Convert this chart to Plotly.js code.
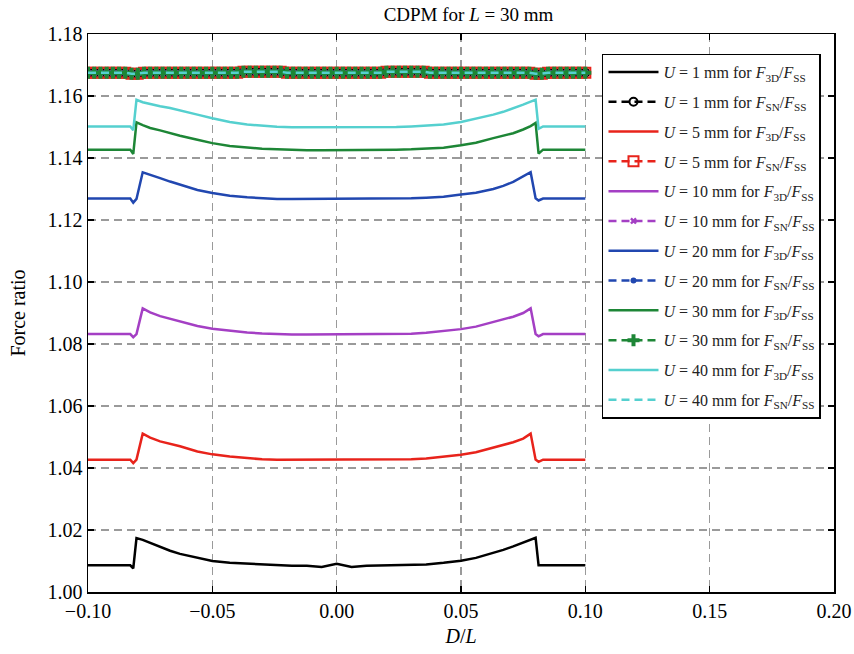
<!DOCTYPE html>
<html>
<head>
<meta charset="utf-8">
<script src="https://cdn.plot.ly/plotly-3.0.1.min.js"></script>
<style>html,body{margin:0;padding:0;background:#fff;}#chart{width:854px;height:654px;}</style>
</head>
<body>
<div id="chart"></div>
<script>
// D/L positions for the 3D curves
const x3D = [-0.100, -0.090, -0.083, -0.0818, -0.0805, -0.078, -0.075, -0.071, -0.067, -0.063, -0.056, -0.050, -0.043, -0.036, -0.030, -0.024, -0.018, -0.012, -0.006, 0.000, 0.006, 0.012, 0.018, 0.024, 0.030, 0.036, 0.043, 0.050, 0.056, 0.063, 0.067, 0.071, 0.075, 0.078, 0.0800, 0.0812, 0.083, 0.090, 0.100];

// F3D/FSS for each U
const u1_3D  = [1.0086, 1.0086, 1.0086, 1.0076, 1.0174, 1.0168, 1.0158, 1.0144, 1.0133, 1.0123, 1.0111, 1.0100, 1.0094, 1.0091, 1.0088, 1.0086, 1.0085, 1.0085, 1.0081, 1.0091, 1.0081, 1.0085, 1.0086, 1.0086, 1.0087, 1.0089, 1.0094, 1.0101, 1.0110, 1.0126, 1.0136, 1.0147, 1.0160, 1.0170, 1.0175, 1.0086, 1.0086, 1.0086, 1.0086];
const u5_3D  = [1.0427, 1.0427, 1.0427, 1.0416, 1.0427, 1.0511, 1.0498, 1.0486, 1.0478, 1.0470, 1.0453, 1.0444, 1.0437, 1.0432, 1.0428, 1.0427, 1.0427, 1.0427, 1.0427, 1.0427, 1.0427, 1.0427, 1.0427, 1.0427, 1.0428, 1.0431, 1.0436, 1.0443, 1.0451, 1.0466, 1.0474, 1.0483, 1.0495, 1.0511, 1.0427, 1.0420, 1.0427, 1.0427, 1.0427];
const u10_3D = [1.0832, 1.0832, 1.0832, 1.0822, 1.0832, 1.0915, 1.0902, 1.0890, 1.0882, 1.0874, 1.0858, 1.0849, 1.0842, 1.0837, 1.0834, 1.0832, 1.0831, 1.0831, 1.0831, 1.0831, 1.0831, 1.0831, 1.0831, 1.0832, 1.0833, 1.0836, 1.0841, 1.0848, 1.0856, 1.0870, 1.0879, 1.0888, 1.0900, 1.0915, 1.0832, 1.0825, 1.0832, 1.0832, 1.0832];
const u20_3D = [1.1269, 1.1269, 1.1269, 1.1256, 1.1268, 1.1354, 1.1345, 1.1335, 1.1324, 1.1314, 1.1297, 1.1287, 1.1278, 1.1273, 1.1270, 1.1268, 1.1268, 1.1268, 1.1268, 1.1268, 1.1268, 1.1268, 1.1268, 1.1269, 1.1270, 1.1272, 1.1275, 1.1282, 1.1288, 1.1300, 1.1310, 1.1323, 1.1341, 1.1354, 1.1270, 1.1263, 1.1269, 1.1269, 1.1269];
const u30_3D = [1.1427, 1.1427, 1.1427, 1.1413, 1.1515, 1.1506, 1.1497, 1.1489, 1.1480, 1.1472, 1.1459, 1.1448, 1.1439, 1.1433, 1.1430, 1.1428, 1.1426, 1.1425, 1.1425, 1.1425, 1.1425, 1.1425, 1.1426, 1.1427, 1.1428, 1.1430, 1.1433, 1.1441, 1.1449, 1.1464, 1.1471, 1.1480, 1.1492, 1.1503, 1.1513, 1.1414, 1.1427, 1.1427, 1.1427];
const u40_3D = [1.1502, 1.1502, 1.1502, 1.1490, 1.1588, 1.1580, 1.1574, 1.1567, 1.1561, 1.1554, 1.1540, 1.1528, 1.1516, 1.1508, 1.1504, 1.1501, 1.1499, 1.1499, 1.1499, 1.1499, 1.1499, 1.1499, 1.1499, 1.1500, 1.1502, 1.1504, 1.1508, 1.1516, 1.1526, 1.1540, 1.1549, 1.1560, 1.1572, 1.1582, 1.1588, 1.1494, 1.1502, 1.1502, 1.1502];

// D/L positions for the SN curves
const xSN = [-0.1000,-0.0975,-0.0950,-0.0925,-0.0900,-0.0875,-0.0850,-0.0825,-0.0800,-0.0775,-0.0750,-0.0725,-0.0700,-0.0675,-0.0650,-0.0625,-0.0600,-0.0575,-0.0550,-0.0525,-0.0500,-0.0475,-0.0450,-0.0425,-0.0400,-0.0375,-0.0350,-0.0325,-0.0300,-0.0275,-0.0250,-0.0225,-0.0200,-0.0175,-0.0150,-0.0125,-0.0100,-0.0075,-0.0050,-0.0025,0.0000,0.0025,0.0050,0.0075,0.0100,0.0125,0.0150,0.0175,0.0200,0.0225,0.0250,0.0275,0.0300,0.0325,0.0350,0.0375,0.0400,0.0425,0.0450,0.0475,0.0500,0.0525,0.0550,0.0575,0.0600,0.0625,0.0650,0.0675,0.0700,0.0725,0.0750,0.0775,0.0800,0.0825,0.0850,0.0875,0.0900,0.0925,0.0950,0.0975,0.1000];
// FSN/FSS (all U overlap in the picture)
const snRatio = [1.1675,1.1675,1.1675,1.1675,1.1675,1.1675,1.1675,1.1672,1.1672,1.1675,1.1675,1.1675,1.1675,1.1675,1.1675,1.1675,1.1675,1.1675,1.1675,1.1675,1.1675,1.1675,1.1675,1.1675,1.1675,1.1678,1.1678,1.1678,1.1678,1.1678,1.1678,1.1678,1.1675,1.1675,1.1675,1.1675,1.1675,1.1675,1.1675,1.1675,1.1675,1.1675,1.1675,1.1675,1.1675,1.1675,1.1675,1.1675,1.1678,1.1678,1.1678,1.1678,1.1678,1.1678,1.1678,1.1675,1.1675,1.1675,1.1675,1.1675,1.1675,1.1675,1.1675,1.1675,1.1675,1.1675,1.1675,1.1675,1.1675,1.1675,1.1675,1.1675,1.1672,1.1672,1.1675,1.1675,1.1675,1.1675,1.1675,1.1675,1.1675];

const uValues = ['1', '5', '10', '20', '30', '40'];
const series3D = [u1_3D, u5_3D, u10_3D, u20_3D, u30_3D, u40_3D];
const seriesSN = [snRatio, snRatio, snRatio, snRatio, snRatio, snRatio];

const colors = ['#000000', '#e8231b', '#a43fc4', '#2147b0', '#1d8636', '#55d0cf'];
const snMarkers = [
  {symbol: 'circle-open', size: 8, line: {width: 2}},
  {symbol: 'square-open', size: 10, line: {width: 2}},
  {symbol: 'x', size: 6, line: {width: 0}},
  {symbol: 'circle', size: 6, line: {width: 0}},
  {symbol: 'cross', size: 10, line: {width: 0}},
  null
];

const traces = [];
uValues.forEach((u, i) => {
  traces.push({
    x: x3D, y: series3D[i], type: 'scatter', mode: 'lines',
    line: {color: colors[i], width: 2.5},
    name: '<i>U</i> = ' + u + ' mm for <i>F</i><sub>3D</sub>/<i>F</i><sub>SS</sub>',
    legendgroup: 'g' + (2 * i)
  });
  const m = snMarkers[i];
  const t = {
    x: xSN, y: seriesSN[i], type: 'scatter', mode: m ? 'lines+markers' : 'lines',
    line: {color: colors[i], width: 2.5, dash: '8px,5px'},
    name: '<i>U</i> = ' + u + ' mm for <i>F</i><sub>SN</sub>/<i>F</i><sub>SS</sub>',
    legendgroup: 'g' + (2 * i + 1)
  };
  if (m) {
    t.marker = {symbol: m.symbol, size: m.size, color: colors[i], line: {color: colors[i], width: m.line.width}};
  }
  traces.push(t);
});

const serif = 'Liberation Serif, Times New Roman, serif';
const axisCommon = {
  showline: true, linecolor: '#000', linewidth: 1.5, mirror: 'ticks',
  ticks: 'inside', ticklen: 6, tickwidth: 1.2, tickcolor: '#000',
  showgrid: true, gridcolor: '#9a9a9a', gridwidth: 1.2, griddash: '8px,5px',
  zeroline: false, tickfont: {family: serif, size: 20, color: '#000'}
};

const layout = {
  width: 854, height: 654,
  margin: {l: 88, r: 20, t: 34, b: 62},
  paper_bgcolor: '#fff', plot_bgcolor: '#fff',
  showlegend: true,
  title: {text: 'CDPM for <i>L</i> = 30 mm', font: {family: serif, size: 19, color: '#000'},
          xref: 'paper', x: 0.51, xanchor: 'center', yref: 'container', y: 0.978, yanchor: 'middle'},
  xaxis: Object.assign({}, axisCommon, {
    range: [-0.1, 0.2], dtick: 0.05, tick0: 0, tickformat: '.2f',
    title: {text: '<i>D</i>/<i>L</i>', font: {family: serif, size: 20, color: '#000'}, standoff: 8}
  }),
  yaxis: Object.assign({}, axisCommon, {
    range: [1.0, 1.18], dtick: 0.02, tick0: 1.0, tickformat: '.2f',
    title: {text: 'Force ratio', font: {family: serif, size: 20, color: '#000'}, standoff: 16}
  }),
  legend: {
    x: 0.689, y: 0.965, xanchor: 'left', yanchor: 'top',
    bgcolor: '#fff', bordercolor: '#000', borderwidth: 1.5,
    font: {family: serif, size: 16, color: '#222'},
    traceorder: 'grouped', tracegroupgap: 6, itemwidth: 50
  }
};

Plotly.newPlot('chart', traces, layout, {displayModeBar: false, staticPlot: true});
</script>
</body>
</html>
